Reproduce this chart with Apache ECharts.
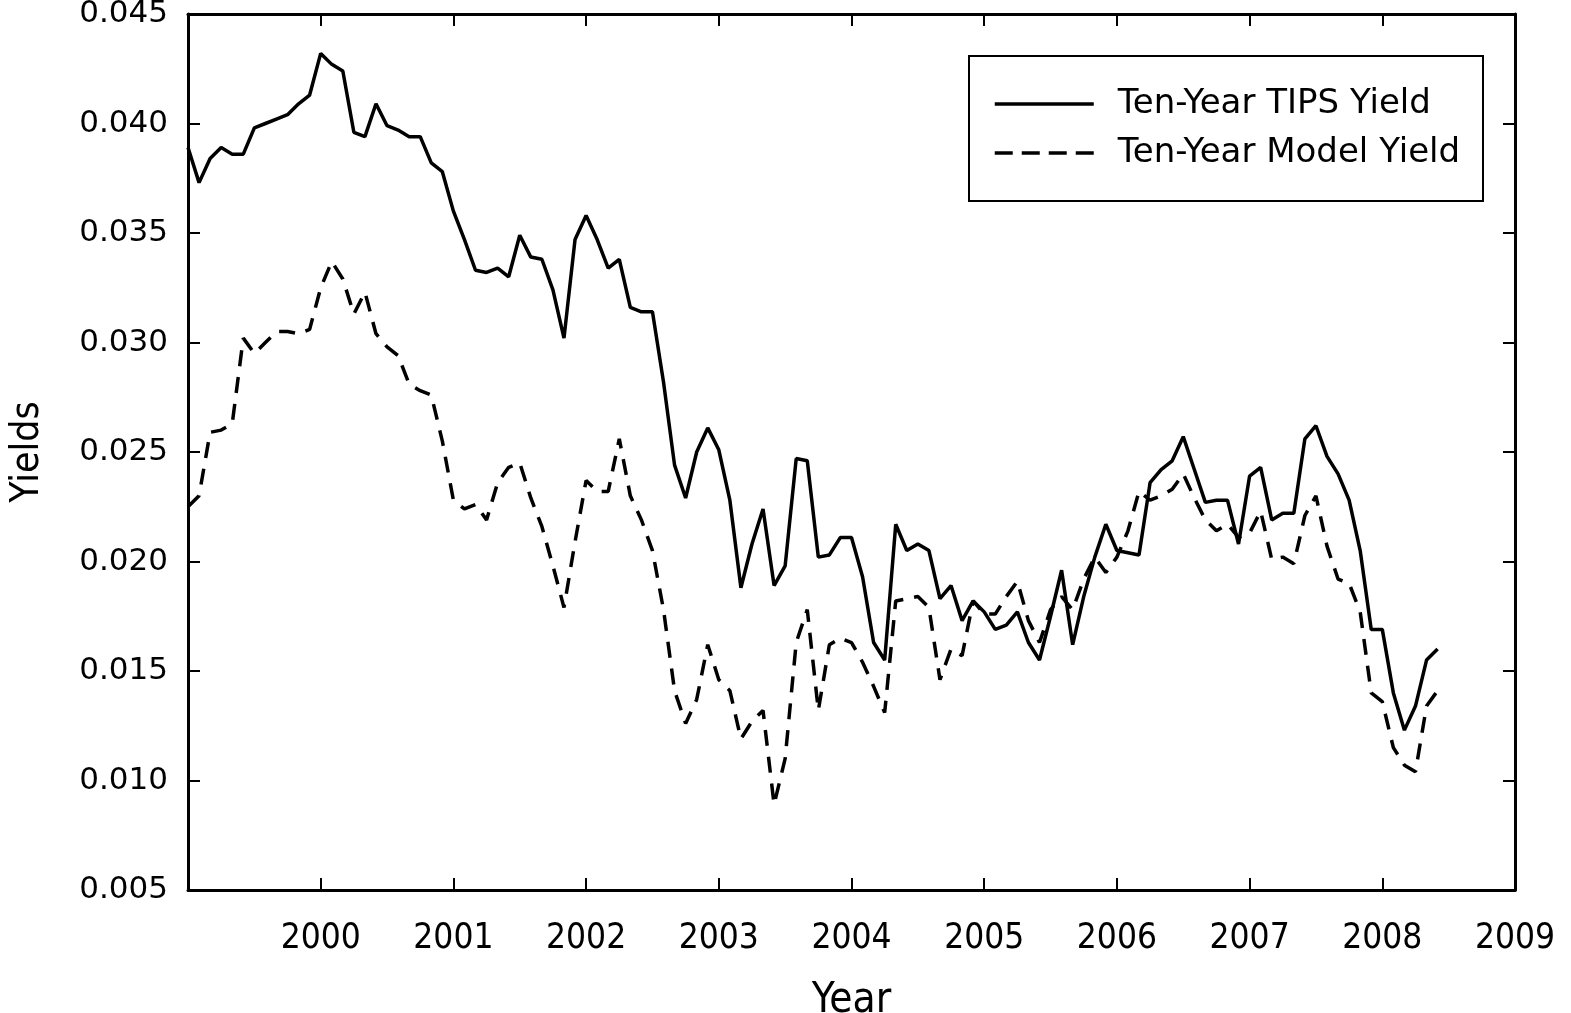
<!DOCTYPE html>
<html>
<head>
<meta charset="utf-8">
<title>Ten-Year TIPS Yield vs Model Yield</title>
<script src="https://cdn.jsdelivr.net/npm/echarts@6/dist/echarts.min.js"></script>
<style>
  html, body { margin: 0; padding: 0; background: #fff; }
  #chart { width: 1571px; height: 1013px; }
</style>
</head>
<body>
<div id="chart"></div>
<script>
// Monthly observations, January 1999 through June 2008
const startYear = 1999;
const seriesNames = ['Ten-Year TIPS Yield', 'Ten-Year Model Yield'];

const tipsYield = [
  0.0389, 0.0373, 0.0384, 0.0389, 0.0386, 0.0386, 0.0398, 0.0400, 0.0402, 0.0404, 0.0409, 0.0413,
  0.0432, 0.0427, 0.0424, 0.0396, 0.0394, 0.0409, 0.0399, 0.0397, 0.0394, 0.0394, 0.0382, 0.0378,
  0.0360, 0.0347, 0.0333, 0.0332, 0.0334, 0.0330, 0.0349, 0.0339, 0.0338, 0.0324, 0.0302, 0.0347,
  0.0358, 0.0347, 0.0334, 0.0338, 0.0316, 0.0314, 0.0314, 0.0282, 0.0244, 0.0229, 0.0250, 0.0261,
  0.0251, 0.0228, 0.0188, 0.0208, 0.0224, 0.0189, 0.0198, 0.0247, 0.0246, 0.0202, 0.0203, 0.0211,
  0.0211, 0.0193, 0.0163, 0.0155, 0.0217, 0.0205, 0.0208, 0.0205, 0.0183, 0.0189, 0.0173, 0.0182,
  0.0177, 0.0169, 0.0171, 0.0177, 0.0163, 0.0155, 0.0175, 0.0196, 0.0162, 0.0184, 0.0202, 0.0217,
  0.0205, 0.0204, 0.0203, 0.0236, 0.0242, 0.0246, 0.0257, 0.0242, 0.0227, 0.0228, 0.0228, 0.0208,
  0.0239, 0.0243, 0.0219, 0.0222, 0.0222, 0.0256, 0.0262, 0.0248, 0.0240, 0.0228, 0.0205, 0.0169,
  0.0169, 0.0140, 0.0123, 0.0134, 0.0155, 0.0160
];

const modelYield = [
  0.0225, 0.0230, 0.0259, 0.0260, 0.0263, 0.0302, 0.0295, 0.0300, 0.0305, 0.0305, 0.0304, 0.0306,
  0.0325, 0.0337, 0.0329, 0.0313, 0.0323, 0.0304, 0.0298, 0.0294, 0.0281, 0.0278, 0.0276, 0.0255,
  0.0228, 0.0224, 0.0226, 0.0219, 0.0236, 0.0243, 0.0245, 0.0229, 0.0216, 0.0198, 0.0179, 0.0209,
  0.0237, 0.0232, 0.0232, 0.0256, 0.0230, 0.0219, 0.0205, 0.0178, 0.0141, 0.0126, 0.0137, 0.0162,
  0.0146, 0.0141, 0.0119, 0.0127, 0.0132, 0.0089, 0.0110, 0.0163, 0.0178, 0.0132, 0.0162, 0.0165,
  0.0163, 0.0154, 0.0143, 0.0131, 0.0182, 0.0183, 0.0184, 0.0179, 0.0146, 0.0160, 0.0157, 0.0182,
  0.0176, 0.0176, 0.0184, 0.0191, 0.0173, 0.0163, 0.0178, 0.0184, 0.0178, 0.0192, 0.0202, 0.0195,
  0.0202, 0.0214, 0.0232, 0.0228, 0.0230, 0.0233, 0.0240, 0.0229, 0.0219, 0.0214, 0.0217, 0.0211,
  0.0213, 0.0223, 0.0201, 0.0202, 0.0199, 0.0221, 0.0230, 0.0207, 0.0192, 0.0190, 0.0177, 0.0140,
  0.0136, 0.0115, 0.0107, 0.0104, 0.0134, 0.0141
];

// Axis scales and tick labels
const xMin = 1999, xMax = 2009, xStep = 1;
const yMin = 0.005, yMax = 0.045, yStep = 0.005;
const yTickDecimals = 3;

// Pair each value with its time in fractional years (one step per month)
function toPoints(values) {
  return values.map((v, i) => [startYear + i / 12, v]);
}

const labelFont = 'DejaVu Sans';
const narrowFont = '"DejaVu Sans Condensed", "DejaVu Sans", sans-serif';
const lineWidth = 3.5;
const dashPattern = [16, 11];

const chart = echarts.init(document.getElementById('chart'), null, { renderer: 'canvas' });

const frameLine = { show: true, lineStyle: { color: '#000', width: 3 } };
const innerTick = { show: true, inside: true, length: 12, lineStyle: { color: '#000', width: 2 } };

function legendFor(name, top, dashed) {
  return {
    data: [name], left: 993, top: top, padding: 0,
    itemWidth: 99, itemHeight: 14,
    itemStyle: { opacity: 0 },
    lineStyle: { color: '#000', width: lineWidth, type: dashed ? [18, 9] : 'solid' },
    textStyle: {
      color: '#000', fontFamily: labelFont, fontSize: 34, lineHeight: 36,
      padding: [0, 0, 0, 19]
    }
  };
}

chart.setOption({
  animation: false,
  backgroundColor: '#fff',
  grid: {
    left: 188, top: 14, right: 56, bottom: 123,
    containLabel: false, outerBoundsMode: 'none'
  },
  xAxis: [
    {
      type: 'value', position: 'bottom', min: xMin, max: xMax, interval: xStep,
      axisLine: frameLine, axisTick: innerTick, splitLine: { show: false },
      axisLabel: {
        showMinLabel: false, margin: 31, color: '#000',
        fontFamily: narrowFont, fontSize: 35,
        formatter: v => String(Math.round(v))
      },
      name: 'Year', nameLocation: 'middle', nameGap: 90,
      nameTextStyle: { color: '#000', fontFamily: narrowFont, fontSize: 42 }
    },
    {
      type: 'value', position: 'top', min: xMin, max: xMax, interval: xStep,
      axisLine: frameLine, axisTick: innerTick, axisLabel: { show: false },
      splitLine: { show: false }
    }
  ],
  yAxis: [
    {
      type: 'value', position: 'left', min: yMin, max: yMax, interval: yStep,
      axisLine: frameLine, axisTick: innerTick, splitLine: { show: false },
      axisLabel: {
        margin: 20, color: '#000', fontFamily: labelFont, fontSize: 31,
        formatter: v => v.toFixed(yTickDecimals)
      },
      name: 'Yields', nameLocation: 'middle', nameGap: 141, nameRotate: 90,
      nameTextStyle: { color: '#000', fontFamily: narrowFont, fontSize: 39 }
    },
    {
      type: 'value', position: 'right', min: yMin, max: yMax, interval: yStep,
      axisLine: frameLine, axisTick: innerTick, axisLabel: { show: false },
      splitLine: { show: false }
    }
  ],
  legend: [
    legendFor(seriesNames[0], 86, false),
    legendFor(seriesNames[1], 135, true)
  ],
  graphic: [
    {
      type: 'rect', left: 968, top: 55, z: 0,
      shape: { width: 514, height: 145 },
      style: { fill: '#fff', stroke: '#000', lineWidth: 2 }
    }
  ],
  series: [
    {
      name: seriesNames[0], type: 'line', data: toPoints(tipsYield),
      symbol: 'none', z: 3,
      lineStyle: { color: '#000', width: lineWidth, type: 'solid' },
      itemStyle: { color: '#000' }
    },
    {
      name: seriesNames[1], type: 'line', data: toPoints(modelYield),
      symbol: 'none', z: 2,
      lineStyle: { color: '#000', width: lineWidth, type: dashPattern },
      itemStyle: { color: '#000' }
    }
  ]
});
</script>
</body>
</html>
